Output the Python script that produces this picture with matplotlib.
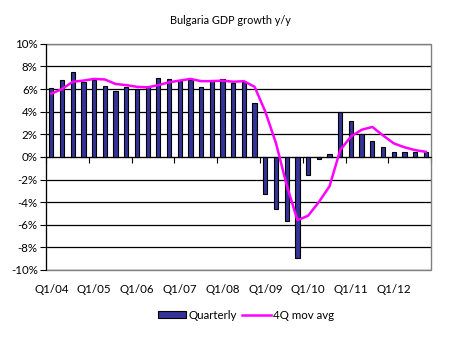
import numpy as np
import matplotlib
matplotlib.use("Agg")
import matplotlib.pyplot as plt
from matplotlib.patches import Rectangle

plt.rcParams["font.family"] = ["Lato", "DejaVu Sans"]

# quarterly y/y GDP growth, Q1/04 .. Q4/12 (%)
quarterly = [6.1, 6.8, 7.5, 6.6,
             6.8, 6.3, 5.8, 6.2,
             6.0, 6.3, 7.0, 6.85,
             6.7, 6.8, 6.2, 6.8,
             6.85, 6.5, 6.65, 4.75,
             -3.3, -4.65, -5.65, -8.9,
             -1.6, -0.2, 0.3, 4.0,
             3.2, 2.05, 1.45, 0.9,
             0.45, 0.45, 0.45, 0.45]
mov_avg = [5.6, 6.0, 6.65, 6.75,
           6.9, 6.85, 6.45, 6.35,
           6.2, 6.15, 6.35, 6.6,
           6.75, 6.9, 6.7, 6.7,
           6.75, 6.65, 6.7, 6.2,
           4.0, 1.2, -2.5, -5.6,
           -5.2, -4.0, -2.6, 0.6,
           1.8, 2.4, 2.65, 1.9,
           1.2, 0.85, 0.6, 0.45]
years = ["04", "05", "06", "07", "08", "09", "10", "11", "12"]
yticks = [-10, -8, -6, -4, -2, 0, 2, 4, 6, 8, 10]

x = np.arange(len(quarterly))
fig = plt.figure(figsize=(4.51, 3.4), dpi=100)
ax = fig.add_axes([0.102, 0.206, 0.854, 0.665])

bars = ax.bar(x, quarterly, 0.4, color="#333399", edgecolor="black", linewidth=0.8,
              label="Quarterly", zorder=3)
line, = ax.plot(x, mov_avg, color="#ff00ff", lw=1.8, label="4Q mov avg", zorder=4)

ax.set_xlim(-0.5, len(x) - 0.5)
ax.set_ylim(-10, 10)
ax.set_yticks(yticks)
ax.set_yticklabels([f"{v}%" for v in yticks], fontsize=8.3)
ax.yaxis.grid(True, color="black", lw=0.9)
ax.set_axisbelow(True)

# category axis crosses at zero, tick marks every 4 quarters
ax.spines["bottom"].set_position(("data", 0))
ax.spines["bottom"].set_color("black")
ax.set_xticks(np.arange(-0.5, len(x), 4))
ax.tick_params(axis="x", direction="out", length=4, labelbottom=False)
ax.tick_params(axis="y", direction="out", length=4, pad=2)
for sp in ("top", "right"):
    ax.spines[sp].set_visible(False)
ax.add_patch(Rectangle((0, 0), 1, 1, transform=ax.transAxes, fill=False,
                       ec="#808080", lw=1, zorder=2.5, clip_on=False))
ax.spines["left"].set_zorder(5)

for i, yr in enumerate(years):
    ax.text(i * 4, -0.085, f"Q1/{yr}", transform=ax.get_xaxis_transform(),
            ha="center", va="center", fontsize=8.3)

fig.text(0.51, 0.94, "Bulgaria GDP growth y/y", ha="center", va="center", fontsize=7.8)
fig.legend([bars, line], ["Quarterly", "4Q mov avg"], loc="center",
           bbox_to_anchor=(0.545, 0.073), ncol=2, frameon=False,
           fontsize=8.3, handlelength=2.5, handleheight=0.6, handletextpad=0.2,
           columnspacing=0.4)

fig.savefig("out.png", dpi=100)
